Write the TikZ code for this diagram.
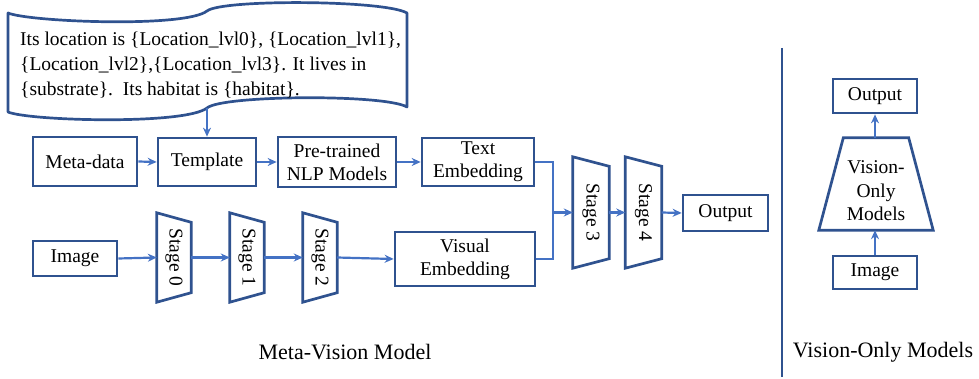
\documentclass[tikz,border=0pt]{standalone}
\usepackage{fontspec}
\setmainfont{Liberation Serif}
\usetikzlibrary{arrows.meta,calc}
\definecolor{boxcol}{RGB}{47,82,143}
\definecolor{arrcol}{RGB}{68,114,196}
\tikzset{
  box/.style={draw=boxcol, line width=2.7pt, align=center, inner sep=0pt,
    font=\fontsize{19.5}{23}\selectfont},
  ghost/.style={inner sep=0pt},
  stagetext/.style={rotate=-90, font=\fontsize{19.5}{23}\selectfont},
  trap/.style={draw=boxcol, line width=2.7pt, line join=miter},
  conn/.style={draw=arrcol, line width=2.2pt},
  arr/.style={conn, -{Stealth[length=9pt,width=8pt]}},
  caption/.style={font=\fontsize{22}{26}\selectfont}
}
\begin{document}
\begin{tikzpicture}[x=1pt,y=-1pt]
\useasboundingbox (0,0) rectangle (979,379);

% callout (wave shape)
\draw[boxcol, line width=2.7pt, line join=round]
  (8,13) .. controls (30,22) and (185,28) .. (207,11)
  .. controls (222,-1) and (385,0) .. (407,13)
  -- (407,107) .. controls (385,94) and (222,95) .. (207,108)
  .. controls (185,125) and (30,121) .. (8,112) -- cycle;
\coordinate (cb) at (207,108);
\node[ghost, anchor=north west, align=left, font=\fontsize{19.5}{25}\selectfont] (callout) at (20,31.5)
  {Its location is \{Location\_lvl0\}, \{Location\_lvl1\},\\
   \{Location\_lvl2\},\{Location\_lvl3\}. It lives in\\
   \{substrate\}.\ \ Its habitat is \{habitat\}.};

% top row
\node[box, minimum width=104pt, minimum height=49pt] (meta) at (85,161.5) {Meta-data};
\node[box, minimum width=98pt, minimum height=48pt] (tmpl) at (207,162) {Template};
\node[box, minimum width=118pt, minimum height=50pt] (nlp) at (337,162) {Pre-trained\\NLP Models};
\node[box, minimum width=112pt, minimum height=48pt] (temb) at (478,162) {Text\\Embedding};

% bottom row
\node[box, minimum width=84pt, minimum height=35pt] (img) at (75,258.5) {Image};
\node[box, minimum width=140pt, minimum height=54pt] (vemb) at (465,259) {Visual\\Embedding};

% stages
\foreach \n/\x/\y/\w/\h/\t/\lab in {s0/174/257.5/34/89/9.5/Stage 0, s1/247/257.5/34/89/9.5/Stage 1, s2/320/257.5/34/89/9.5/Stage 2, s3/591/212.5/36/111/9.5/Stage 3, s4/643.5/212.5/36/111/9.5/Stage 4}{
  \node[ghost, minimum width=\w pt, minimum height=\h pt] (\n) at (\x,\y) {};
  \draw[trap] (\n.north west) -- ($(\n.north east)+(0,\t)$) -- ($(\n.south east)+(0,-\t)$) -- (\n.south west) -- cycle;
  \node[stagetext] at (\n.center) {\lab};
}

\node[box, minimum width=85pt, minimum height=36pt] (out) at (725.5,213) {Output};

% connectors meta-vision
\draw[arr] (cb) -- (tmpl.north);
\draw[arr] (meta.east) -- (tmpl.west);
\draw[arr] (tmpl.east) -- (nlp.west);
\draw[arr] (nlp.east) -- (temb.west);
\draw[arr] (img.east) -- (s0.west);
\draw[arr] (s0.east) -- (s1.west);
\draw[arr] (s1.east) -- (s2.west);
\draw[arr] (s2.east) -- (vemb.west);
\coordinate (j) at (553,212.5);
\draw[conn] (temb.east) -| (j) |- (vemb.east);
\draw[arr] (j) -- (s3.west);
\draw[arr] (s3.east) -- (s4.west);
\draw[arr] (s4.east) -- (out.west);

% divider
\coordinate (d1) at (782,48);
\coordinate (d2) at (782,377);
\draw[boxcol, line width=2.7pt] (d1) -- (d2);

% vision-only
\node[box, minimum width=84pt, minimum height=34pt] (out2) at (875,96) {Output};
\node[ghost, minimum width=114pt, minimum height=92pt] (vom) at (876,184) {};
\draw[trap] (vom.south west) -- ($(vom.north west)+(24.5,0)$) -- ($(vom.north east)+(-24.5,0)$) -- (vom.south east) -- cycle;
\node[font=\fontsize{19.5}{23.5}\selectfont, align=center, inner sep=0pt] (vomtext) at ($(vom.center)+(0,7)$) {Vision-\\Only\\Models};
\node[box, minimum width=84pt, minimum height=33pt] (img2) at (875,272.5) {Image};
\draw[arr] (img2.north) -- (img2.north |- vom.south);
\draw[arr] (out2.south |- vom.north) -- (out2.south);

% captions
\node[caption] (cap1) at (345,352) {Meta-Vision Model};
\node[caption] (cap2) at (883,352) {Vision-Only Models};
\end{tikzpicture}
\end{document}
